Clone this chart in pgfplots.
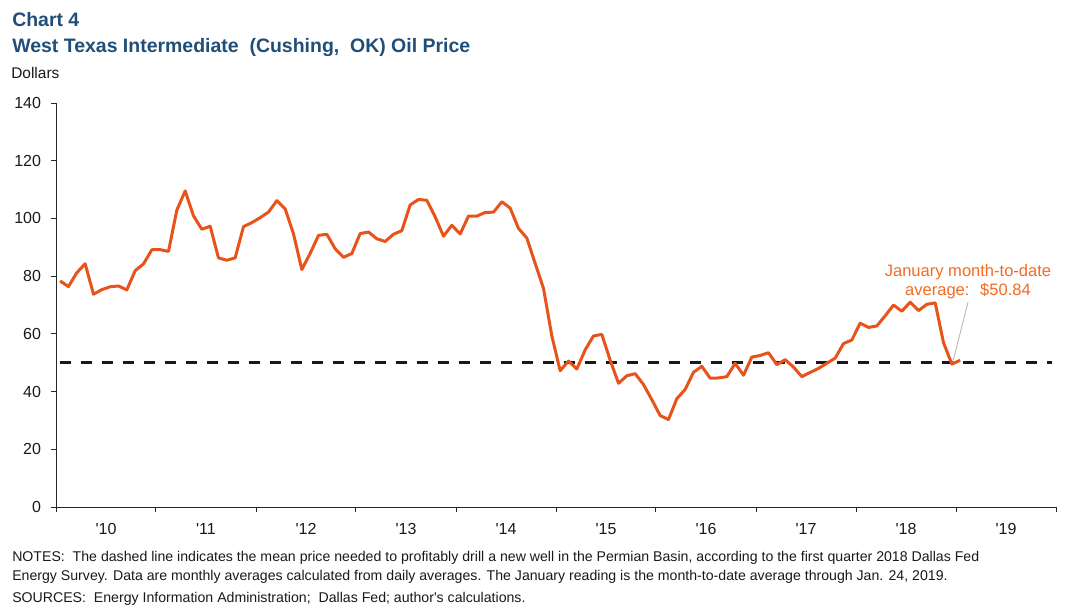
\documentclass[border=0pt]{standalone}
\usepackage{fontspec}
\setmainfont{Liberation Sans}
\usepackage{pgfplots}
\pgfplotsset{compat=1.18}
\usepackage{pgfplotstable}
\definecolor{oil}{HTML}{E8531C}
\definecolor{ttl}{HTML}{1F4E79}
\definecolor{ann}{HTML}{F26B21}
\pgfplotstableread{
p
78.33
76.39
81.20
84.29
73.74
75.34
76.32
76.60
75.24
81.89
84.25
89.15
89.17
88.58
102.86
109.53
100.90
96.26
97.30
86.33
85.52
86.32
97.16
98.56
100.27
102.20
106.16
103.32
94.66
82.30
87.90
94.13
94.51
89.49
86.53
87.86
94.76
95.31
92.94
92.02
94.51
95.77
104.67
106.57
106.29
100.54
93.86
97.63
94.62
100.82
100.80
102.07
102.18
105.79
103.59
96.54
93.21
84.40
75.79
59.29
47.22
50.58
47.82
54.45
59.27
59.82
50.90
42.87
45.48
46.22
42.44
37.19
31.68
30.32
37.55
40.75
46.71
48.76
44.65
44.72
45.18
49.78
45.66
51.97
52.50
53.47
49.33
51.06
48.48
45.18
46.63
48.04
49.82
51.58
56.64
57.88
63.70
62.23
62.73
66.25
69.98
67.87
70.98
68.06
70.23
70.75
56.96
49.52
50.84
}\oildata
\begin{document}
\begin{tikzpicture}
\useasboundingbox (0,0) rectangle (807.75pt,-459pt);
\begin{axis}[
  at={(42pt,-380.25pt)}, anchor=south west,
  width=750pt, height=303pt, scale only axis,
  xmin=2010, xmax=2020, ymin=0, ymax=140,
  axis x line=bottom, axis y line=left,
  axis line style={-, draw=black!85, line width=0.75pt},
  tick align=outside,
  ytick={0,20,...,140},
  xtick={2010,2011,...,2020},
  xticklabels={\textquotesingle10,\textquotesingle11,\textquotesingle12,\textquotesingle13,\textquotesingle14,\textquotesingle15,\textquotesingle16,\textquotesingle17,\textquotesingle18,\textquotesingle19,{}},
  xticklabel style={xshift=37.5pt, yshift=-5pt},
  yticklabel style={xshift=-4pt},
  tick style={draw=black!85, line width=0.75pt},
  major tick length=3.75pt,
  ticklabel style={font=\fontsize{12}{14}\selectfont, text=black!90},
  /pgf/number format/assume math mode=true,
  clip=false,
]
\addplot[black!90, line width=2.6pt, dash pattern=on 8.25pt off 7.5pt] coordinates {(2010.035,50) (2019.96,50)};
\addplot[oil, line width=2.25pt, line join=round] table[x expr={2010+(\coordindex+0.5)/12}, y=p] {\oildata};
\draw[black!30, line width=0.6pt] (axis cs:2018.97,50.5) -- (axis cs:2019.12,71);
\end{axis}
\begin{scope}[x=0.75pt, y=-0.75pt]
\node[anchor=base west, inner sep=0pt, text=ttl, font=\fontsize{14.6}{17}\selectfont\bfseries] at (12,26) {Chart 4};
\node[anchor=base west, inner sep=0pt, text=ttl, font=\fontsize{14.6}{17}\selectfont\bfseries] at (12,52) {West Texas Intermediate \ (Cushing, \ OK) Oil Price};
\node[anchor=base west, inner sep=0pt, text=black!90, font=\fontsize{11.6}{14}\selectfont] at (11,78.5) {Dollars};
\node[anchor=base, inner sep=0pt, text=ann, font=\fontsize{12.4}{14}\selectfont] at (968,276) {January month-to-date};
\node[anchor=base, inner sep=0pt, text=ann, font=\fontsize{12.4}{14}\selectfont] at (968,295) {average: \ \$50.84};
\node[anchor=base west, inner sep=0pt, text=black!90, font=\fontsize{10.6}{13}\selectfont] at (12,561) {NOTES: \ The dashed line indicates the mean price needed to profitably drill a new well in the Permian Basin, according to the first quarter 2018 Dallas Fed};
\node[anchor=base west, inner sep=0pt, text=black!90, font=\fontsize{10.6}{13}\selectfont] at (12,580) {Energy Survey. Data are monthly averages calculated from daily averages. The January reading is the month-to-date average through Jan. 24, 2019.};
\node[anchor=base west, inner sep=0pt, text=black!90, font=\fontsize{10.6}{13}\selectfont] at (12,602) {SOURCES: \ Energy Information Administration; \ Dallas Fed; author\textquotesingle s calculations.};
\end{scope}
\end{tikzpicture}
\end{document}
